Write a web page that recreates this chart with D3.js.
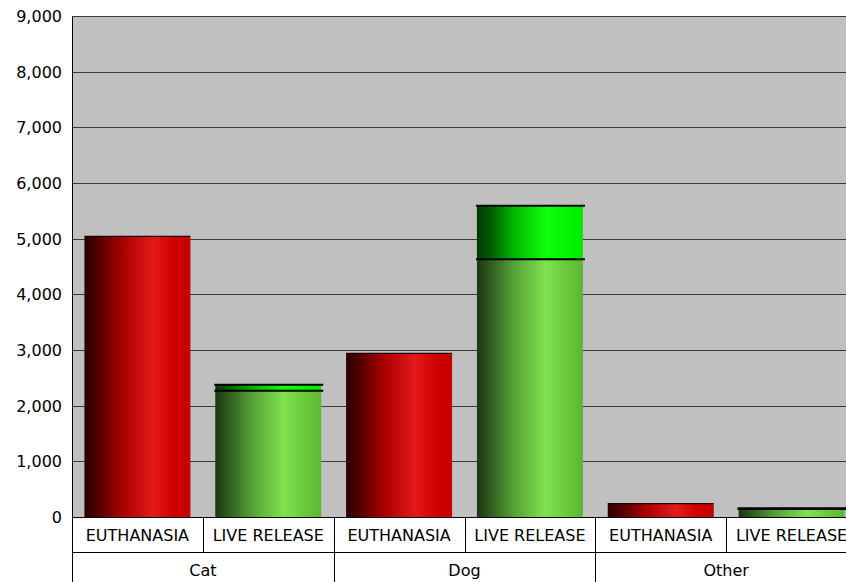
<!DOCTYPE html>
<html>
<head>
<meta charset="utf-8">
<script src="https://cdn.jsdelivr.net/npm/d3@7"></script>
<style>
html,body{margin:0;padding:0;background:#fff;}
svg{display:block;}
text{font-family:"DejaVu Sans",sans-serif;fill:#000;}
</style>
</head>
<body>
<svg id="chart" width="846" height="582"></svg>
<script>
const groups = ["Cat", "Dog", "Other"];
const outcomes = ["EUTHANASIA", "LIVE RELEASE"];
const euthanasia = [5040, 2940, 240];
const liveBase = [2270, 4630, 145];
const liveTop = [105, 960, 10];
const yTicks = [0, 1000, 2000, 3000, 4000, 5000, 6000, 7000, 8000, 9000];

(function () {
const W = 846, H = 582;
const pLeft = 72, pTop = 16, pBottom = 517, pRight = 857;
const FS = 16;
const svg = d3.select("#chart");

const y = d3.scaleLinear().domain([0, 9000]).range([pBottom, pTop]);
const slots = [];
groups.forEach(g => outcomes.forEach(o => slots.push(g + "|" + o)));
const xs = d3.scaleBand().domain(slots).range([pLeft, pRight]).paddingInner(0.19).paddingOuter(0.095);
const xg = d3.scaleBand().domain(groups).range([pLeft, pRight]);
const slotW = (pRight - pLeft) / slots.length;

const defs = svg.append("defs");
function grad(id, stops) {
  const g = defs.append("linearGradient").attr("id", id).attr("x1", "0%").attr("x2", "100%").attr("y1", "0%").attr("y2", "0%");
  stops.forEach(s => g.append("stop").attr("offset", s[0]).attr("stop-color", s[1]));
}
grad("gRed", [["0%", "#2a0000"], ["12%", "#500000"], ["35%", "#a80000"], ["65%", "#e41a1a"], ["85%", "#d00000"], ["100%", "#c40000"]]);
grad("gGreen", [["0%", "#1c3612"], ["12%", "#2e5a1e"], ["35%", "#56a236"], ["65%", "#80e250"], ["85%", "#68c83a"], ["100%", "#5cb634"]]);
grad("gBright", [["0%", "#003800"], ["12%", "#005a00"], ["35%", "#00b800"], ["65%", "#10ff10"], ["85%", "#00f400"], ["100%", "#00e800"]]);

svg.append("rect").attr("x", pLeft).attr("y", pTop).attr("width", pRight - pLeft).attr("height", pBottom - pTop).attr("fill", "#c0c0c0");

svg.append("g").selectAll("line").data(yTicks.filter(t => t > 0)).join("line")
  .attr("x1", pLeft).attr("x2", pRight)
  .attr("y1", d => Math.round(y(d)) + 0.5).attr("y2", d => Math.round(y(d)) + 0.5)
  .attr("stroke", "#3a3a3a").attr("stroke-width", 1);

const yAxis = d3.axisLeft(y).tickValues(yTicks).tickFormat(d3.format(",")).tickSize(0).tickPadding(10);
const ya = svg.append("g").attr("transform", `translate(${pLeft},0)`).call(yAxis);
ya.select(".domain").remove();
ya.attr("font-family", null).attr("font-size", null);
ya.selectAll("text").attr("font-size", FS).attr("dy", "0.35em");

const barG = svg.append("g");
groups.forEach((g, i) => {
  const xe = xs(g + "|EUTHANASIA"), bw = xs.bandwidth();
  barG.append("rect").attr("x", xe).attr("width", bw)
    .attr("y", y(euthanasia[i])).attr("height", y(0) - y(euthanasia[i]))
    .attr("fill", "url(#gRed)");
  barG.append("line").attr("x1", xe).attr("x2", xe + bw)
    .attr("y1", y(euthanasia[i])).attr("y2", y(euthanasia[i]))
    .attr("stroke", "#200000").attr("stroke-width", 1.2);

  const xl = xs(g + "|LIVE RELEASE");
  const yb = y(liveBase[i]), yt = y(liveBase[i] + liveTop[i]);
  barG.append("rect").attr("x", xl).attr("width", bw)
    .attr("y", yb).attr("height", y(0) - yb).attr("fill", "url(#gGreen)");
  barG.append("rect").attr("x", xl).attr("width", bw)
    .attr("y", yt).attr("height", yb - yt).attr("fill", "url(#gBright)");
  [yb, yt].forEach(yy => {
    barG.append("line").attr("x1", xl - 1).attr("x2", xl + bw + 2)
      .attr("y1", yy).attr("y2", yy).attr("stroke", "#000").attr("stroke-width", 2);
  });
});

svg.append("line").attr("x1", pLeft + 0.5).attr("x2", pLeft + 0.5).attr("y1", pTop).attr("y2", H).attr("stroke", "#000");
svg.append("line").attr("x1", pLeft).attr("x2", pRight).attr("y1", pTop + 0.5).attr("y2", pTop + 0.5).attr("stroke", "#3a3a3a");
svg.append("line").attr("x1", pLeft).attr("x2", pRight).attr("y1", pBottom + 0.5).attr("y2", pBottom + 0.5).attr("stroke", "#000");

const row1 = 552;
svg.append("line").attr("x1", pLeft).attr("x2", pRight).attr("y1", row1 + 0.5).attr("y2", row1 + 0.5).attr("stroke", "#000");
const tbl = svg.append("g");
slots.forEach((s, k) => {
  const x0 = pLeft + k * slotW;
  if (k > 0) {
    tbl.append("line").attr("x1", Math.round(x0) + 0.5).attr("x2", Math.round(x0) + 0.5)
      .attr("y1", pBottom).attr("y2", row1).attr("stroke", "#000");
  }
  tbl.append("text").attr("x", x0 + slotW / 2).attr("y", (pBottom + row1) / 2 + 1)
    .attr("text-anchor", "middle").attr("dy", "0.35em").attr("font-size", FS)
    .text(s.split("|")[1]);
});
groups.forEach((g, i) => {
  const x0 = xg(g);
  if (i > 0) {
    tbl.append("line").attr("x1", Math.round(x0) + 0.5).attr("x2", Math.round(x0) + 0.5)
      .attr("y1", row1).attr("y2", H).attr("stroke", "#000");
  }
  tbl.append("text").attr("x", x0 + xg.bandwidth() / 2).attr("y", 570)
    .attr("text-anchor", "middle").attr("dy", "0.35em").attr("font-size", FS)
    .text(g);
});
})();
</script>
</body>
</html>
